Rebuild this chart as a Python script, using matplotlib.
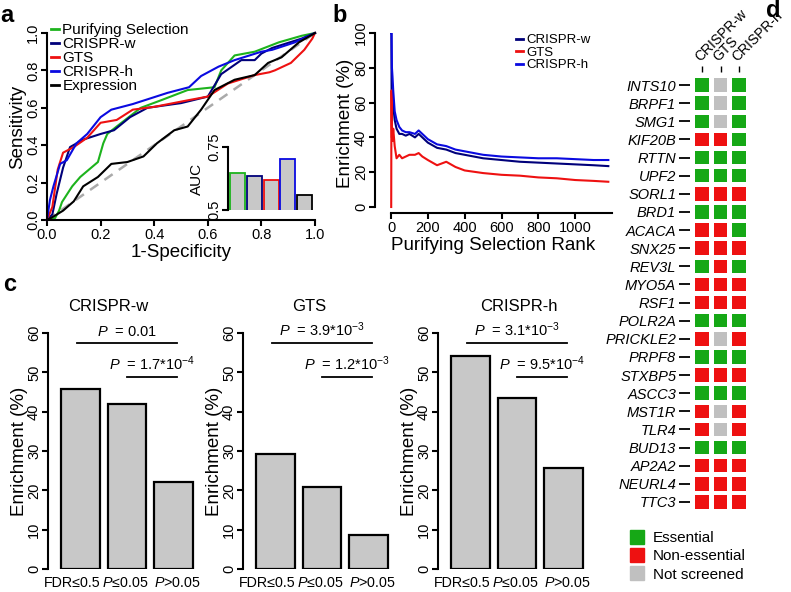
import matplotlib
matplotlib.use('Agg')
import matplotlib.pyplot as plt
from matplotlib.lines import Line2D
import numpy as np

plt.rcParams['font.family'] = ['Liberation Sans', 'DejaVu Sans']
plt.rcParams['mathtext.fontset'] = 'custom'
plt.rcParams['mathtext.rm'] = 'Liberation Sans'
plt.rcParams['mathtext.it'] = 'Liberation Sans:italic'

# ---- panel a: ROC curves ----
roc_fpr_purifying = [0, 0.03, 0.045, 0.056, 0.094, 0.124, 0.19, 0.21, 0.225, 0.26, 0.35, 0.425, 0.525, 0.625, 0.65, 0.70, 0.775, 0.865, 0.95, 1.0]
roc_tpr_purifying = [0, 0.01, 0.05, 0.096, 0.18, 0.23, 0.31, 0.41, 0.46, 0.50, 0.60, 0.64, 0.695, 0.71, 0.80, 0.88, 0.90, 0.95, 0.985, 1.0]
roc_fpr_crispr_w = [0, 0.02, 0.036, 0.06, 0.086, 0.135, 0.2, 0.25, 0.31, 0.375, 0.5, 0.6, 0.65, 0.725, 0.775, 0.8, 0.84, 0.95, 1.0]
roc_tpr_crispr_w = [0, 0.03, 0.14, 0.28, 0.39, 0.43, 0.46, 0.48, 0.55, 0.60, 0.625, 0.66, 0.78, 0.855, 0.855, 0.89, 0.92, 0.97, 1.0]
roc_fpr_gts = [0, 0.02, 0.04, 0.06, 0.10, 0.15, 0.20, 0.26, 0.32, 0.40, 0.525, 0.60, 0.675, 0.775, 0.83, 0.85, 0.91, 0.96, 0.99, 1.0]
roc_tpr_gts = [0, 0.07, 0.27, 0.36, 0.39, 0.44, 0.52, 0.535, 0.59, 0.605, 0.64, 0.66, 0.73, 0.775, 0.79, 0.80, 0.84, 0.91, 0.97, 1.0]
roc_fpr_crispr_h = [0, 0.011, 0.024, 0.049, 0.074, 0.11, 0.15, 0.20, 0.24, 0.32, 0.45, 0.53, 0.575, 0.64, 0.70, 0.80, 0.84, 0.925, 1.0]
roc_tpr_crispr_h = [0, 0.107, 0.18, 0.30, 0.32, 0.41, 0.46, 0.55, 0.59, 0.62, 0.68, 0.71, 0.77, 0.82, 0.855, 0.90, 0.91, 0.95, 1.0]
roc_fpr_expression = [0, 0.02, 0.06, 0.10, 0.135, 0.19, 0.24, 0.30, 0.36, 0.41, 0.475, 0.525, 0.575, 0.625, 0.70, 0.775, 0.825, 0.875, 0.94, 1.0]
roc_tpr_expression = [0, 0.015, 0.05, 0.10, 0.18, 0.23, 0.30, 0.31, 0.34, 0.41, 0.48, 0.50, 0.59, 0.695, 0.75, 0.775, 0.84, 0.87, 0.95, 1.0]

methods = ['Purifying Selection', 'CRISPR-w', 'GTS', 'CRISPR-h', 'Expression']
auc = [0.647, 0.635, 0.619, 0.702, 0.56]

# ---- panel b: enrichment vs rank ----
ranks = [1, 2, 3, 5, 8, 12, 20, 30, 45, 60, 80, 100, 130, 150, 170, 200, 250, 300, 350, 400, 500, 600, 700, 800, 900, 1000, 1100, 1180]
enrich_crispr_w = [100, 100, 67, 60, 62, 58, 50, 45, 42, 42, 41, 42, 40, 42, 40, 37, 34, 33, 31, 30, 28, 27, 26, 25.5, 25, 24.5, 24, 23.5]
enrich_gts = [0, 50, 67, 40, 38, 45, 35, 28, 30, 28, 29, 30, 30, 31, 29, 27, 24, 26, 23, 21, 19.5, 18.5, 18, 17, 16.5, 15.5, 15, 14.5]
enrich_crispr_h = [100, 100, 100, 80, 75, 67, 55, 50, 46, 44, 43, 43, 42, 44, 42, 39, 36, 35, 33, 32, 30, 29, 28.5, 28, 28, 27.5, 27, 27]

# ---- panel c: enrichment by group ----
group_labels = ['FDR≤0.5', r'$\mathit{P}$≤0.05', r'$\mathit{P}$>0.05']
screens = ['CRISPR-w', 'GTS', 'CRISPR-h']
enrich_groups = [[45.8, 42.0, 22.2], [29.3, 20.9, 8.6], [54.2, 43.5, 25.7]]
p_top = [r'$\mathit{P}$  = 0.01', r'$\mathit{P}$  = 3.9*10$^{-3}$', r'$\mathit{P}$  = 3.1*10$^{-3}$']
p_low = [r'$\mathit{P}$  = 1.7*10$^{-4}$', r'$\mathit{P}$  = 1.2*10$^{-3}$', r'$\mathit{P}$  = 9.5*10$^{-4}$']

# ---- panel d: gene status (E essential, N non-essential, U not screened) ----
genes = ['INTS10', 'BRPF1', 'SMG1', 'KIF20B', 'RTTN', 'UPF2', 'SORL1', 'BRD1', 'ACACA', 'SNX25',
         'REV3L', 'MYO5A', 'RSF1', 'POLR2A', 'PRICKLE2', 'PRPF8', 'STXBP5', 'ASCC3', 'MST1R', 'TLR4',
         'BUD13', 'AP2A2', 'NEURL4', 'TTC3']
status_crispr_w = ['E', 'E', 'E', 'N', 'E', 'E', 'N', 'E', 'N', 'N', 'E', 'N', 'N', 'E', 'N', 'E', 'N', 'E', 'N', 'N', 'E', 'N', 'N', 'N']
status_gts = ['U', 'U', 'U', 'N', 'E', 'E', 'N', 'E', 'N', 'N', 'N', 'N', 'N', 'E', 'U', 'E', 'N', 'E', 'U', 'U', 'E', 'N', 'N', 'N']
status_crispr_h = ['E', 'E', 'E', 'E', 'E', 'E', 'N', 'E', 'E', 'N', 'E', 'N', 'N', 'E', 'N', 'E', 'N', 'E', 'N', 'N', 'E', 'N', 'N', 'N']

GREEN = '#1db31d'
NAVY = '#00007a'
RED = '#ee1111'
BLUE = '#0a0ae0'
roc_colors = [GREEN, NAVY, RED, BLUE, 'black']
status_colors = {'E': '#16a816', 'N': '#ee1111', 'U': '#c0c0c0'}

W, H = 791, 592
fig = plt.figure(figsize=(W / 100, H / 100), dpi=100)


def fx(px):
    return px / W


def fy(py):
    return 1 - py / H


def add_ax(x0, y0, x1, y1):
    return fig.add_axes([x0 / W, 1 - y1 / H, (x1 - x0) / W, (y1 - y0) / H])


def r_style(ax):
    for s in ['top', 'right']:
        ax.spines[s].set_visible(False)
    for s in ['left', 'bottom']:
        ax.spines[s].set_linewidth(1.5)
    ax.tick_params(width=1.5, length=4, labelsize=10.5, pad=2)
    ax.tick_params(axis='y', pad=1)


# panel a
ax = add_ax(47, 33, 315, 220)
ax.plot([0, 1], [0, 1], color='#aaaaaa', lw=1.8, ls=(0, (4, 3)))
roc = [(roc_fpr_purifying, roc_tpr_purifying), (roc_fpr_crispr_w, roc_tpr_crispr_w),
       (roc_fpr_gts, roc_tpr_gts), (roc_fpr_crispr_h, roc_tpr_crispr_h),
       (roc_fpr_expression, roc_tpr_expression)]
handles = []
for (fpr, tpr), c, name in zip(roc, roc_colors, methods):
    ln, = ax.plot(fpr, tpr, color=c, lw=1.5, label=name, clip_on=False)
    handles.append(ln)
ax.set_xlim(0, 1)
ax.set_ylim(0, 1)
r_style(ax)
ticks = np.arange(0, 1.01, 0.2)
ax.set_xticks(ticks)
ax.set_xticklabels(['%.1f' % t for t in ticks])
ax.set_yticks(ticks)
ax.set_yticklabels(['%.1f' % t for t in ticks], rotation=90, va='center')
ax.set_xlabel('1-Specificity', fontsize=13.5, labelpad=1)
ax.set_ylabel('Sensitivity', fontsize=13.5, labelpad=0)
leg = ax.legend(handles=handles, loc='upper left', bbox_to_anchor=(fx(51), fy(23)),
                bbox_transform=fig.transFigure, frameon=False, handlelength=0.5,
                handletextpad=0.25, labelspacing=0.0, fontsize=11, borderpad=0, borderaxespad=0)
for l in leg.get_lines():
    l.set_linewidth(2)

# inset AUC
iax = add_ax(228, 147, 313, 210)
iax.patch.set_alpha(0)
iax.bar(np.arange(5), auc, width=0.9, color='#c8c8c8', edgecolor=roc_colors, linewidth=1.3)
iax.set_xlim(-0.567, 4.5)
iax.set_ylim(0.5, 0.75)
r_style(iax)
iax.spines['bottom'].set_visible(False)
iax.set_xticks([])
iax.set_yticks([0.5, 0.75])
iax.set_yticklabels(['0.5', '0.75'], rotation=90, va='center')
iax.set_ylabel('AUC', fontsize=11, labelpad=2)

# panel b
bax = add_ax(375, 33, 612, 213)
bax.plot(ranks, enrich_crispr_w, color=NAVY, lw=1.5, label='CRISPR-w')
bax.plot(ranks, enrich_gts, color=RED, lw=1.5, label='GTS')
bax.plot(ranks, enrich_crispr_h, color=BLUE, lw=1.5, label='CRISPR-h')
bax.set_xlim(-87, 1200)
bax.set_ylim(-3.45, 100)
r_style(bax)
bax.spines['left'].set_bounds(0, 100)
bax.spines['bottom'].set_bounds(0, 1200)
bax.set_xticks(range(0, 1001, 200))
bax.set_yticks(range(0, 101, 20))
bax.set_yticklabels([str(v) for v in range(0, 101, 20)], rotation=90, va='center')
bax.set_xlabel('Purifying Selection Rank', fontsize=13.5, labelpad=1)
bax.set_ylabel('Enrichment (%)', fontsize=13.5, labelpad=0)
leg = bax.legend(loc='upper left', bbox_to_anchor=(fx(516), fy(34)), bbox_transform=fig.transFigure,
                 frameon=False, handlelength=0.55, handletextpad=0.25, labelspacing=0.02,
                 fontsize=9.5, borderpad=0, borderaxespad=0)
for l in leg.get_lines():
    l.set_linewidth(2)

# panel c
bar_x = [0.7, 1.9, 3.1]
label_x = [0.48, 1.86, 3.2]
title_px = [108, 309, 519]
for i in range(3):
    L = 48 + 195 * i
    cax = add_ax(L, 333, L + 158, 569)
    cax.bar(bar_x, enrich_groups[i], width=1.0, color='#c8c8c8', edgecolor='black', linewidth=1.6)
    cax.set_xlim(-0.135, 3.935)
    cax.set_ylim(0, 60)
    r_style(cax)
    cax.spines['bottom'].set_visible(False)
    cax.spines['left'].set_bounds(0, 60)
    cax.set_yticks(range(0, 61, 10))
    cax.set_yticklabels([str(v) for v in range(0, 61, 10)], rotation=90, va='center')
    cax.set_xticks(label_x)
    cax.set_xticklabels(group_labels, fontsize=10.3)
    cax.tick_params(axis='x', length=0, pad=5)
    cax.set_ylabel('Enrichment (%)', fontsize=13.5, labelpad=-1)
    cax.plot([0.6, 3.2], [57.5, 57.5], color='black', lw=1.3, clip_on=False)
    cax.plot([1.9, 3.2], [48.8, 48.8], color='black', lw=1.3, clip_on=False)
    cax.text(1.9, 58.5, p_top[i], ha='center', va='bottom', fontsize=10.5)
    cax.text(2.55, 49.8, p_low[i], ha='center', va='bottom', fontsize=10.5)
    fig.text(fx(title_px[i]), fy(307), screens[i], ha='center', va='center', fontsize=12)

# panel d
dax = add_ax(690, 72, 748.25, 511)
cols = [status_crispr_w, status_gts, status_crispr_h]
rows = np.arange(len(genes))
for j, col in enumerate(cols):
    dax.scatter(np.full(len(genes), j), rows, marker='s', s=95,
                c=[status_colors[v] for v in col], edgecolors='none')
dax.set_xlim(-0.5 - 2.75 / 18.5, 2.5)
dax.set_ylim(23.5, -0.5 - 4 / 18.13)
for s in dax.spines.values():
    s.set_visible(False)
dax.set_yticks(rows)
dax.set_yticklabels(genes, fontstyle='italic', fontsize=10.5)
dax.tick_params(axis='y', length=8, width=1.3, pad=2)
dax.xaxis.tick_top()
dax.set_xticks([0, 1, 2])
dax.set_xticklabels(screens, rotation=45, ha='left', va='bottom', rotation_mode='anchor', fontsize=10)
dax.tick_params(axis='x', length=4, width=1, pad=2)
dax.patch.set_alpha(0)

leg_handles = [Line2D([], [], ls='', marker='s', ms=9.5, color=status_colors[k]) for k in ['E', 'N', 'U']]
fig.legend(leg_handles, ['Essential', 'Non-essential', 'Not screened'], loc='upper left',
           bbox_to_anchor=(fx(630.5), fy(531)), frameon=False, handlelength=0.8,
           handletextpad=0.68, labelspacing=0.28, fontsize=11, borderpad=0, borderaxespad=0)

# panel letters
for txt, px, py in [('a', 0, 22), ('b', 332, 22), ('c', 3, 291), ('d', 766, 17)]:
    fig.text(fx(px), fy(py), txt, fontsize=17, fontweight='bold', ha='left', va='baseline')

fig.savefig('out.png', dpi=100)
